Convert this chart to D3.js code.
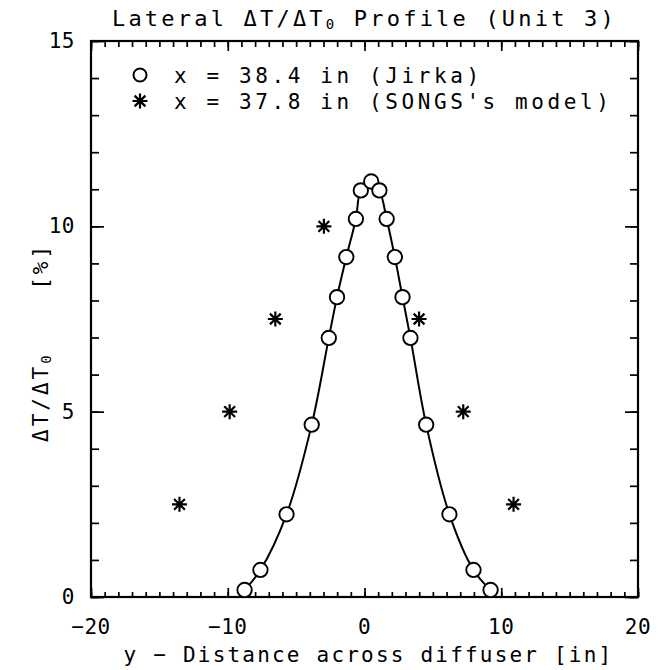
<!DOCTYPE html>
<html lang="en">
    <head>
        <meta charset="utf-8">
        <title>Lateral profile</title>
        <script type="text/javascript" src="https://cdn.jsdelivr.net/npm/d3@7"></script>
        <style>
            body { margin: 0; background: #fff; }
            text { font-family: "DejaVu Sans Mono", monospace; fill: #000; }
        </style>
    </head>
    <body>
        <script type="text/javascript">
            // Jirka measurements, x = 38.4 in
            var jirkaY = [-8.77, -7.61, -5.70, -3.86, -2.61, -2.01, -1.33, -0.63, -0.27, 0.49,
                          1.09, 1.62, 2.22, 2.78, 3.36, 4.51, 6.21, 7.97, 9.22];
            var jirkaT = [0.19, 0.73, 2.23, 4.65, 6.99, 8.09, 9.17, 10.2, 10.97, 11.21,
                          10.97, 10.2, 9.17, 8.09, 6.99, 4.65, 2.23, 0.73, 0.19];

            // SONGS's model, x = 37.8 in
            var songsY = [-13.53, -9.86, -6.52, -2.97, 3.99, 7.22, 10.9];
            var songsT = [2.5, 5, 7.5, 10, 7.5, 5, 2.5];

            var xTicks = [-20, -10, 0, 10, 20];
            var yTicks = [0, 5, 10, 15];

            var w = 659, h = 670;
            // plot frame (window.top is read-only, hence the short names)
            var pl = 91, pr = 638, pt = 41, pb = 597;

            var svg = d3.select("body").append("svg")
                        .attr("width", w)
                        .attr("height", h);

            var xScale = d3.scaleLinear().domain([-20, 20]).range([pl, pr]);
            var yScale = d3.scaleLinear().domain([0, 15]).range([pb, pt]);

            var minorX = d3.range(-20, 21), minorY = d3.range(0, 16);

            // minor + major ticks on all four sides, pointing inward
            function ticks(axis, vals, size) {
                return axis.tickValues(vals).tickSize(-size).tickFormat("");
            }
            var frame = svg.append("g").attr("class", "frame");
            frame.append("g").attr("transform", "translate(0," + pb + ")")
                 .call(ticks(d3.axisBottom(xScale), minorX, 5));
            frame.append("g").attr("transform", "translate(0," + pb + ")")
                 .call(ticks(d3.axisBottom(xScale), xTicks, 9));
            frame.append("g").attr("transform", "translate(0," + pt + ")")
                 .call(ticks(d3.axisTop(xScale), minorX, 6));
            frame.append("g").attr("transform", "translate(0," + pt + ")")
                 .call(ticks(d3.axisTop(xScale), xTicks, 10));
            frame.append("g").attr("transform", "translate(" + pl + ",0)")
                 .call(ticks(d3.axisLeft(yScale), minorY, 8));
            frame.append("g").attr("transform", "translate(" + pl + ",0)")
                 .call(ticks(d3.axisLeft(yScale), yTicks, 13));
            frame.append("g").attr("transform", "translate(" + pr + ",0)")
                 .call(ticks(d3.axisRight(yScale), minorY, 8));
            frame.append("g").attr("transform", "translate(" + pr + ",0)")
                 .call(ticks(d3.axisRight(yScale), yTicks, 13));
            frame.selectAll(".domain").remove();
            frame.selectAll("line").attr("stroke", "#000").attr("stroke-width", 1.7);

            svg.append("rect")
                .attr("x", pl).attr("y", pt)
                .attr("width", pr - pl).attr("height", pb - pt)
                .attr("fill", "none").attr("stroke", "#000").attr("stroke-width", 2.2);

            // tick labels
            svg.selectAll(".xlab").data(xTicks).enter().append("text")
                .attr("x", function(d) { return xScale(d); })
                .attr("y", pb + 37)
                .attr("text-anchor", "middle")
                .attr("font-size", "21px")
                .attr("letter-spacing", "0.5px")
                .text(function(d) { return d < 0 ? "\u2212" + (-d) : d; });
            svg.selectAll(".ylab").data(yTicks).enter().append("text")
                .attr("x", pl - 16)
                .attr("y", function(d) { return yScale(d) + 7; })
                .attr("text-anchor", "end")
                .attr("font-size", "21px")
                .attr("letter-spacing", "0.5px")
                .text(function(d) { return d; });

            // title
            var title = svg.append("text")
                .attr("x", (pl + pr) / 2).attr("y", 26)
                .attr("text-anchor", "middle")
                .attr("font-size", "22px")
                .attr("letter-spacing", "3.2px");
            title.append("tspan").text("Lateral \u0394T/\u0394T");
            title.append("tspan").attr("font-size", "14px").attr("dy", 3).text("0");
            title.append("tspan").attr("dy", -3).text(" Profile (Unit 3)");

            // axis titles
            svg.append("text")
                .attr("x", (pl + pr) / 2 + 4).attr("y", 662)
                .attr("text-anchor", "middle")
                .attr("font-size", "21px")
                .attr("letter-spacing", "2.2px")
                .text("y \u2212 Distance across diffuser [in]");

            var ylab = svg.append("text")
                .attr("transform", "translate(48,442) rotate(-90)")
                .attr("font-size", "21px")
                .attr("letter-spacing", "3px")
                .attr("xml:space", "preserve")
                .style("white-space", "pre");
            ylab.append("tspan").text("\u0394T/\u0394T");
            ylab.append("tspan").attr("font-size", "14px").attr("dy", 3).text("0");
            ylab.append("tspan").attr("dy", -3).text("    [%]");

            // connecting curve for Jirka data
            var pts = d3.zip(jirkaY, jirkaT);
            var line = d3.line()
                .x(function(d) { return xScale(d[0]); })
                .y(function(d) { return yScale(d[1]); })
                .curve(d3.curveCatmullRom.alpha(0.5));
            svg.append("path")
                .datum(pts)
                .attr("d", line)
                .attr("fill", "none")
                .attr("stroke", "#000")
                .attr("stroke-width", 2);

            svg.selectAll(".jirka").data(pts).enter().append("circle")
                .attr("cx", function(d) { return xScale(d[0]); })
                .attr("cy", function(d) { return yScale(d[1]); })
                .attr("r", 7.2)
                .attr("fill", "#fff")
                .attr("stroke", "#000")
                .attr("stroke-width", 1.9);

            // asterisk marker
            var r = 7.5;
            var star = "M0," + (-r) + "V" + r + "M" + (-r) + ",0H" + r +
                       "M" + (-r * 0.72) + "," + (-r * 0.72) + "L" + (r * 0.72) + "," + (r * 0.72) +
                       "M" + (-r * 0.72) + "," + (r * 0.72) + "L" + (r * 0.72) + "," + (-r * 0.72);
            var songs = d3.zip(songsY, songsT);
            svg.selectAll(".songs").data(songs).enter().append("path")
                .attr("transform", function(d) {
                    return "translate(" + xScale(d[0]) + "," + yScale(d[1]) + ")";
                })
                .attr("d", star)
                .attr("stroke", "#000")
                .attr("stroke-width", 2.2);

            // legend
            svg.append("circle")
                .attr("cx", 140).attr("cy", 75).attr("r", 6.5)
                .attr("fill", "none").attr("stroke", "#000").attr("stroke-width", 2);
            svg.append("text")
                .attr("x", 174).attr("y", 83)
                .attr("font-size", "21px")
                .attr("letter-spacing", "3.6px")
                .text("x = 38.4 in (Jirka)");
            svg.append("path")
                .attr("transform", "translate(140,101)")
                .attr("d", star)
                .attr("stroke", "#000")
                .attr("stroke-width", 2.2);
            svg.append("text")
                .attr("x", 174).attr("y", 109)
                .attr("font-size", "21px")
                .attr("letter-spacing", "3.6px")
                .text("x = 37.8 in (SONGS's model)");
        </script>
    </body>
</html>
